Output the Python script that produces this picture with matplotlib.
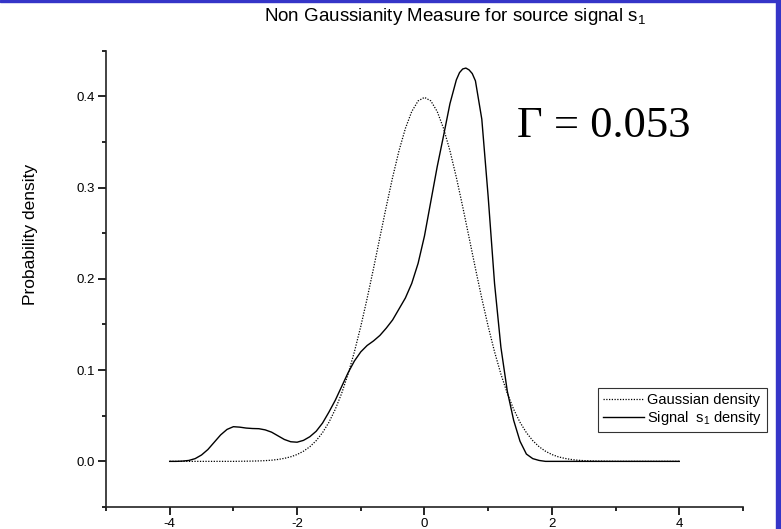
import numpy as np
import matplotlib
matplotlib.use("Agg")
import matplotlib.pyplot as plt
from matplotlib.patches import Rectangle

plt.rcParams['font.family'] = ['Liberation Sans', 'DejaVu Sans']
plt.rcParams['mathtext.default'] = 'regular'
plt.rcParams['axes.unicode_minus'] = False

# Gaussian reference density (dotted)
x_gauss = [-4.0, -3.5, -3.0, -2.9, -2.8, -2.7, -2.6, -2.5, -2.4, -2.3, -2.2, -2.1,
           -2.0, -1.9, -1.8, -1.7, -1.6, -1.5, -1.4, -1.3, -1.2, -1.1,
           -1.0, -0.9, -0.8, -0.7, -0.6, -0.5, -0.4, -0.3, -0.2, -0.1,
           0.0, 0.1, 0.2, 0.3, 0.4, 0.5, 0.6, 0.7, 0.8, 0.9,
           1.0, 1.1, 1.2, 1.3, 1.4, 1.5, 1.6, 1.7, 1.8, 1.9,
           2.0, 2.1, 2.2, 2.3, 2.4, 2.5, 2.6, 2.7, 2.8, 2.9, 3.0, 3.5, 4.0]
y_gauss = [0.0, 0.0, 0.0, 0.0001, 0.0002, 0.0003, 0.0005, 0.0008, 0.0013, 0.0021, 0.0033, 0.0050,
           0.0075, 0.0111, 0.0160, 0.0227, 0.0315, 0.0428, 0.0571, 0.0746, 0.0956, 0.1201,
           0.1479, 0.1786, 0.2114, 0.2454, 0.2791, 0.3113, 0.3404, 0.3648, 0.3834, 0.3950,
           0.3989, 0.3950, 0.3834, 0.3648, 0.3404, 0.3113, 0.2791, 0.2454, 0.2114, 0.1786,
           0.1479, 0.1201, 0.0956, 0.0746, 0.0571, 0.0428, 0.0315, 0.0227, 0.0160, 0.0111,
           0.0075, 0.0050, 0.0033, 0.0021, 0.0013, 0.0008, 0.0005, 0.0003, 0.0002, 0.0001, 0.0, 0.0, 0.0]

# estimated density of source signal s1 (solid)
x_sig = [-4.0, -3.9, -3.8, -3.7, -3.6, -3.5, -3.4, -3.3, -3.2, -3.1,
         -3.0, -2.9, -2.8, -2.7, -2.6, -2.5, -2.4, -2.3, -2.2, -2.1,
         -2.0, -1.9, -1.8, -1.7, -1.6, -1.5, -1.4, -1.3, -1.2, -1.1,
         -1.0, -0.9, -0.8, -0.7, -0.6, -0.5, -0.4, -0.3, -0.2, -0.1,
         0.0, 0.1, 0.2, 0.3, 0.4, 0.5, 0.55, 0.6, 0.65, 0.7, 0.75, 0.8, 0.9,
         1.0, 1.1, 1.2, 1.3, 1.4, 1.5, 1.6, 1.7, 1.8, 1.9, 2.0, 3.0, 4.0]
y_sig = [0.0, 0.0, 0.0003, 0.001, 0.003, 0.007, 0.013, 0.021, 0.029, 0.035,
         0.038, 0.0375, 0.0365, 0.036, 0.0358, 0.0345, 0.032, 0.028, 0.024, 0.0215,
         0.021, 0.023, 0.027, 0.033, 0.042, 0.054, 0.067, 0.082, 0.097, 0.110,
         0.120, 0.127, 0.132, 0.138, 0.146, 0.155, 0.167, 0.179, 0.195, 0.217,
         0.247, 0.285, 0.323, 0.357, 0.392, 0.418, 0.426, 0.430, 0.431, 0.429, 0.425, 0.417, 0.375,
         0.290, 0.195, 0.125, 0.077, 0.045, 0.022, 0.008, 0.003, 0.001, 0.0, 0.0, 0.0, 0.0]

gamma_value = 0.053

fig = plt.figure(figsize=(7.81, 5.29), dpi=100)
ax = fig.add_axes([0.1357, 0.0416, 0.8156, 0.8625])

ax.plot(x_gauss, y_gauss, color='black', linestyle=(0, (1, 1.2)), linewidth=0.9,
        label='Gaussian density')
ax.plot(x_sig, y_sig, color='black', linewidth=1.0, label='Signal  s$_1$ density')

ax.set_xlim(-5, 5)
ax.set_ylim(-0.05, 0.45)
ax.set_xticks([-4, -2, 0, 2, 4])
ax.set_xticks([-5, -3, -1, 1, 3, 5], minor=True)
ax.set_yticks([0.0, 0.1, 0.2, 0.3, 0.4])
ax.set_yticks([-0.05, 0.05, 0.15, 0.25, 0.35, 0.45], minor=True)
ax.set_yticklabels(['0.0', '0.1', '0.2', '0.3', '0.4'])

for side in ['top', 'right']:
    ax.spines[side].set_visible(False)
for side in ['left', 'bottom']:
    ax.spines[side].set_linewidth(1.2)
    ax.spines[side].set_color('#222222')

ax.tick_params(which='major', direction='out', length=6, width=1.2, labelsize=9.5, pad=2)
ax.tick_params(which='minor', direction='out', length=3, width=1.2)

fig.text(31 / 781, 1 - 234 / 529, 'Probability density', rotation=90,
         ha='center', va='center', fontsize=12.5)

fig.text(0.582, 0.968, 'Non Gaussianity Measure for source signal s$_1$',
         ha='center', va='center', fontsize=13.5)

ax.text(0.782, 0.811, '\u0393 = %.3f' % gamma_value, transform=ax.transAxes,
        ha='center', va='baseline', fontsize=32, family='Liberation Serif')

leg = ax.legend(loc='lower left', bbox_to_anchor=(0.772, 0.164), borderaxespad=0,
                fontsize=10.5, frameon=True, fancybox=False, handlelength=2.8,
                handletextpad=0.25, labelspacing=0.15, borderpad=0.35)
leg.get_frame().set_edgecolor('black')
leg.get_frame().set_linewidth(0.8)

# slide border
fig.patches.append(Rectangle((0.9935, 0), 0.0065, 1, transform=fig.transFigure,
                             color='#3535c8', zorder=10))
fig.patches.append(Rectangle((0, 0.996), 1, 0.004, transform=fig.transFigure,
                             color='#3535c8', zorder=10))

fig.savefig('out.png', dpi=100)
